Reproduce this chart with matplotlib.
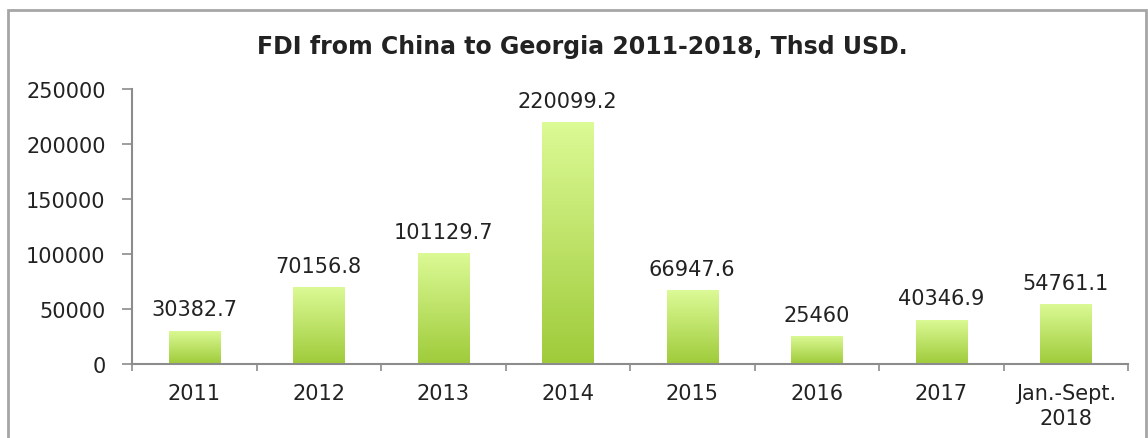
import numpy as np
import matplotlib.pyplot as plt
from matplotlib.patches import Rectangle
from matplotlib.colors import LinearSegmentedColormap

categories = ['2011', '2012', '2013', '2014', '2015', '2016', '2017', 'Jan.-Sept.\n2018']
values = [30382.7, 70156.8, 101129.7, 220099.2, 66947.6, 25460, 40346.9, 54761.1]
labels = ['30382.7', '70156.8', '101129.7', '220099.2', '66947.6', '25460', '40346.9', '54761.1']

plt.rcParams['font.family'] = ['DejaVu Sans']

fig = plt.figure(figsize=(11.48, 4.39), dpi=100)
ax = fig.add_axes([0.115, 0.1686, 0.8676, 0.6264])

# outer frame of the chart
fig.patches.append(Rectangle((8 / 1148, -0.1), 1138 / 1148, 1.1 - 11 / 439,
                             transform=fig.transFigure, fill=False,
                             edgecolor='#a6a6a6', linewidth=2))

x = np.arange(len(categories))
bars = ax.bar(x, values, width=0.41, color='none', edgecolor='none')

# each bar gets its own light-top / darker-bottom gradient
cmap = LinearSegmentedColormap.from_list('g', ['#9fcb3a', '#dcfa96'])
grad = np.linspace(0, 1, 256).reshape(-1, 1)
for b in bars:
    im = ax.imshow(grad, cmap=cmap, aspect='auto', origin='lower',
                   extent=[b.get_x(), b.get_x() + b.get_width(), 0, b.get_height()],
                   zorder=2)
    im.set_clip_path(b)

for xi, v, lab in zip(x, values, labels):
    ax.annotate(lab, (xi, v), xytext=(0, 8), textcoords='offset points',
                ha='center', va='bottom', fontsize=15, color='#222222')

ax.set_xlim(-0.5, len(categories) - 0.5)
ax.set_ylim(0, 250000)
ax.set_yticks(np.arange(0, 250001, 50000))
ax.set_xticks(x)
ax.set_xticklabels(categories, fontsize=15, color='#222222', linespacing=1.3)
ax.set_xticks(np.arange(-0.5, len(categories)), minor=True)
ax.tick_params(axis='x', which='major', length=0, pad=14)
ax.tick_params(axis='x', which='minor', length=5, color='#8c8c8c', width=1.2)
ax.tick_params(axis='y', length=7, color='#8c8c8c', width=1.2, pad=12,
               labelsize=15, labelcolor='#222222')

for s in ['top', 'right']:
    ax.spines[s].set_visible(False)
for s in ['left', 'bottom']:
    ax.spines[s].set_color('#8c8c8c')
    ax.spines[s].set_linewidth(1.5)

fig.text(582 / 1148, 1 - 47 / 439, 'FDI from China to Georgia 2011-2018, Thsd USD.',
         ha='center', va='center', fontsize=17, fontweight='bold', color='#222222')

fig.savefig('out.png', dpi=100)
